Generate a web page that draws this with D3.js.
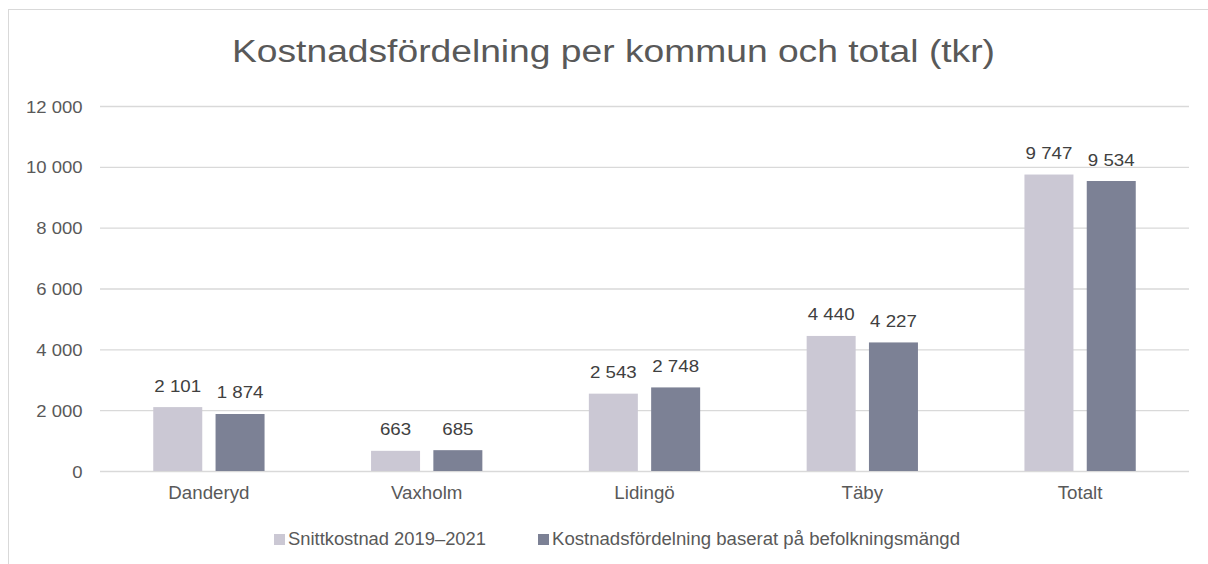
<!DOCTYPE html>
<html><head><meta charset="utf-8">
<script src="https://cdn.jsdelivr.net/npm/d3@7"></script>
<style>body{margin:0;background:#fff;font-family:"Liberation Sans",Arial,sans-serif;}</style>
</head><body><svg id="c" width="1208" height="564" font-family="Liberation Sans, Arial, sans-serif"></svg>
<script>
const categories = ["Danderyd","Vaxholm","Lidingö","Täby","Totalt"];
const seriesNames = ["Snittkostnad 2019–2021","Kostnadsfördelning baserat på befolkningsmängd"];
const snitt = [2101,663,2543,4440,9747];
const befolkning = [1874,685,2748,4227,9534];
const yTicks = [0,2000,4000,6000,8000,10000,12000];
const colors = ["#cbc8d4","#7c8195"];

const svg = d3.select("#c");
const fmt = v => d3.format(",")(v).replace(/,/g," ");
function stretch(sel, f){
  sel.each(function(){
    const len = this.getComputedTextLength();
    d3.select(this).attr("textLength", len*f).attr("lengthAdjust","spacingAndGlyphs");
  });
}
svg.append("rect").attr("x",8.5).attr("y",9.5).attr("width",1220).attr("height",600)
  .attr("fill","#fff").attr("stroke","#d9d9d9").attr("stroke-width",1);

const L=100,R=1189,T=106,B=471;
const x = d3.scaleBand().domain(categories).range([L,R]);
const y = d3.scaleLinear().domain([0,12000]).range([B,T]);

const title = svg.append("text").attr("x",613.5).attr("y",62).attr("text-anchor","middle")
  .attr("font-size",31).attr("fill","#595959").text("Kostnadsfördelning per kommun och total (tkr)");
title.attr("textLength",763).attr("lengthAdjust","spacingAndGlyphs");

const gy = svg.append("g").attr("transform",`translate(${L},0)`)
  .call(d3.axisLeft(y).tickValues(yTicks).tickSize(-(R-L)).tickFormat(fmt));
gy.select(".domain").remove();
gy.selectAll(".tick line").attr("stroke","#d9d9d9").attr("stroke-width",1.3);
gy.selectAll(".tick text").attr("x",-17.5).attr("dy",0).attr("y",6)
  .attr("fill","#595959").attr("font-size",16.5).attr("font-family",null);
stretch(gy.selectAll(".tick text"),1.12);

const gx = svg.append("g").attr("transform",`translate(0,${B})`)
  .call(d3.axisBottom(x).tickSize(0));
gx.select(".domain").remove();
gx.selectAll(".tick text").attr("dy",0).attr("y",28).attr("fill","#595959").attr("font-size",17.5).attr("font-family",null);
stretch(gx.selectAll(".tick text"),1.07);

const bw = 49, gap = 13.3;
const series = [snitt,befolkning];
series.forEach((vals,si)=>{
  const g = svg.append("g");
  const off = si===0 ? -gap/2-bw : gap/2;
  g.selectAll("rect").data(vals).join("rect")
    .attr("x",(d,i)=>x(categories[i])+x.bandwidth()/2+off)
    .attr("y",d=>y(d)).attr("width",bw).attr("height",d=>B-y(d))
    .attr("fill",colors[si]);
  const t = g.selectAll("text").data(vals).join("text")
    .attr("x",(d,i)=>x(categories[i])+x.bandwidth()/2+off+bw/2)
    .attr("y",d=>y(d)-15.5).attr("text-anchor","middle")
    .attr("font-size",17).attr("fill","#404040").text(fmt);
  stretch(t,1.1);
});

const leg = svg.append("g");
const lx = [274,538];
const lw = [198,408];
seriesNames.forEach((n,i)=>{
  leg.append("rect").attr("x",lx[i]).attr("y",534).attr("width",11).attr("height",11).attr("fill",colors[i]);
  leg.append("text").attr("x",lx[i]+14).attr("y",545).attr("font-size",17.5).attr("fill","#595959").text(n)
    .attr("textLength",lw[i]).attr("lengthAdjust","spacingAndGlyphs");
});
</script></body></html>
